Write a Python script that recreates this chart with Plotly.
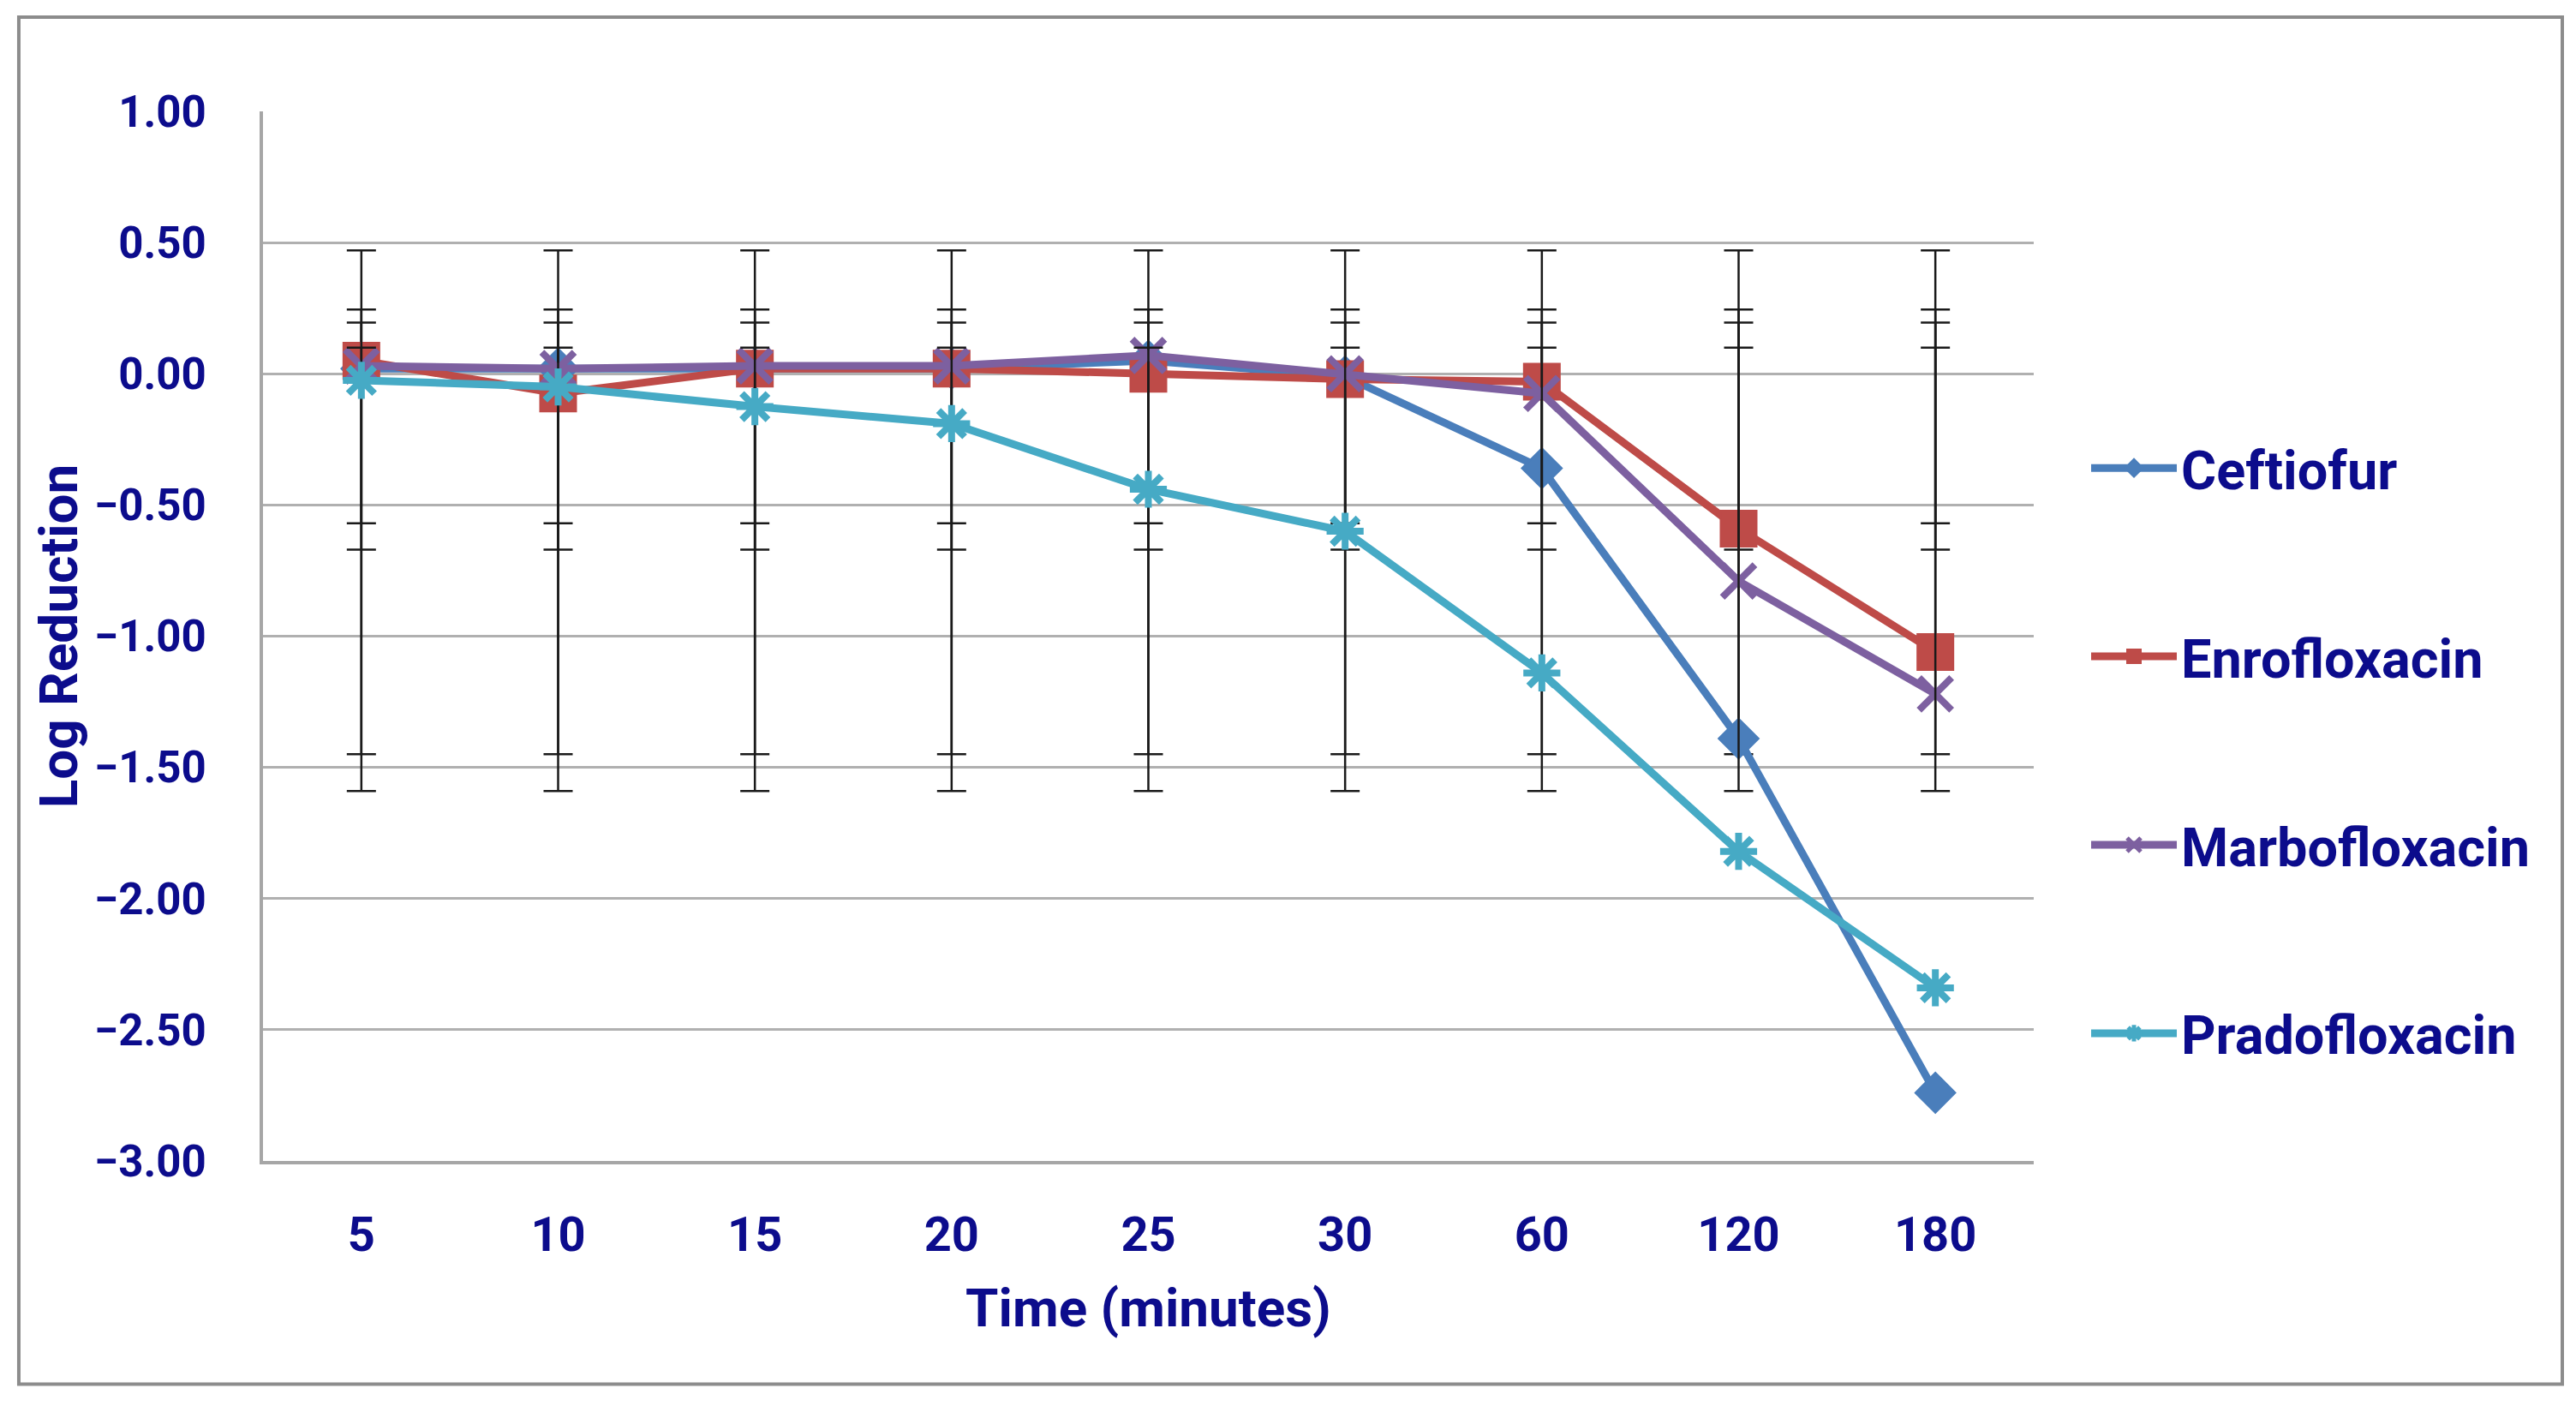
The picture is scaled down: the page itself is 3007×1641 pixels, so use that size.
import plotly.graph_objects as go

times = ["5", "10", "15", "20", "25", "30", "60", "120", "180"]

ceftiofur = [0.02, 0.02, 0.02, 0.02, 0.05, -0.01, -0.36, -1.39, -2.74]
enrofloxacin = [0.05, -0.075, 0.02, 0.02, 0.00, -0.02, -0.03, -0.59, -1.06]
marbofloxacin = [0.03, 0.02, 0.03, 0.03, 0.07, 0.00, -0.075, -0.79, -1.22]
pradofloxacin = [-0.025, -0.05, -0.125, -0.19, -0.44, -0.60, -1.14, -1.82, -2.34]

# error bar extents (same for every point in a series)
err_top = {"Ceftiofur": 0.47, "Enrofloxacin": 0.195, "Marbofloxacin": 0.245, "Pradofloxacin": 0.10}
err_bottom = {"Ceftiofur": -1.45, "Enrofloxacin": -0.57, "Marbofloxacin": -0.67, "Pradofloxacin": -1.59}

y_ticks = [1.0, 0.5, 0.0, -0.5, -1.0, -1.5, -2.0, -2.5, -3.0]

series = [
    ("Ceftiofur", ceftiofur, "#4A7EBB", "diamond", 36, False),
    ("Enrofloxacin", enrofloxacin, "#BE4B48", "square", 42, False),
    ("Marbofloxacin", marbofloxacin, "#7D60A0", "x-thin-open", 38, True),
    ("Pradofloxacin", pradofloxacin, "#46AAC5", "asterisk-open", 36, True),
]

NAVY = "#0C0C8C"
FONT = "Roboto, sans-serif"

fig = go.Figure()
for name, vals, color, sym, size, open_sym in series:
    plus = [err_top[name] - v for v in vals]
    minus = [v - err_bottom[name] for v in vals]
    fig.add_trace(go.Scatter(
        x=times, y=vals, name=name, mode="lines+markers",
        legendgroup=name,
        line=dict(color=color, width=9),
        marker=dict(symbol=sym, size=size, color=color,
                    line=dict(color=color, width=8 if open_sym else 2)),
        error_y=dict(type="data", symmetric=False, array=plus, arrayminus=minus,
                     color="#1a1a1a", thickness=2.5, width=17),
    ))

fig.update_layout(
    width=2999, height=1633,
    margin=dict(l=299, r=633, t=122, b=286),
    paper_bgcolor="white", plot_bgcolor="white",
    font=dict(family=FONT, color=NAVY, size=52),
    showlegend=True,
    legend=dict(x=1.03, y=0.699, xanchor="left", yanchor="top",
                font=dict(family=FONT, size=63, color=NAVY, weight="bold"),
                tracegroupgap=135, itemwidth=100, bgcolor="rgba(0,0,0,0)"),
    shapes=[dict(type="rect", xref="paper", yref="paper",
                 x0=-0.1379, x1=1.2985, y0=-0.2126, y1=1.0897,
                 line=dict(color="#8C8C8C", width=4), layer="below")],
)

fig.update_xaxes(
    type="category", range=[-0.5, 8.5], showgrid=False,
    showline=True, linecolor="#A6A6A6", linewidth=4,
    ticks="", ticklabelstandoff=34,
    tickfont=dict(family=FONT, size=56, color=NAVY, weight="bold"),
    title=dict(text="Time (minutes)", standoff=32,
               font=dict(family=FONT, size=62, color=NAVY, weight="bold")),
)
fig.update_yaxes(
    range=[-3.0, 1.0], tickvals=y_ticks, tickformat=".2f",
    showgrid=True, gridcolor="#B0B0B0", gridwidth=3,
    showline=True, linecolor="#A6A6A6", linewidth=4,
    zeroline=False, ticks="", ticklabelstandoff=52,
    tickfont=dict(family=FONT, size=51, color=NAVY, weight="bold"),
    title=dict(text="Log Reduction", standoff=0,
               font=dict(family=FONT, size=62, color=NAVY, weight="bold")),
)

fig.write_html("out.html")
